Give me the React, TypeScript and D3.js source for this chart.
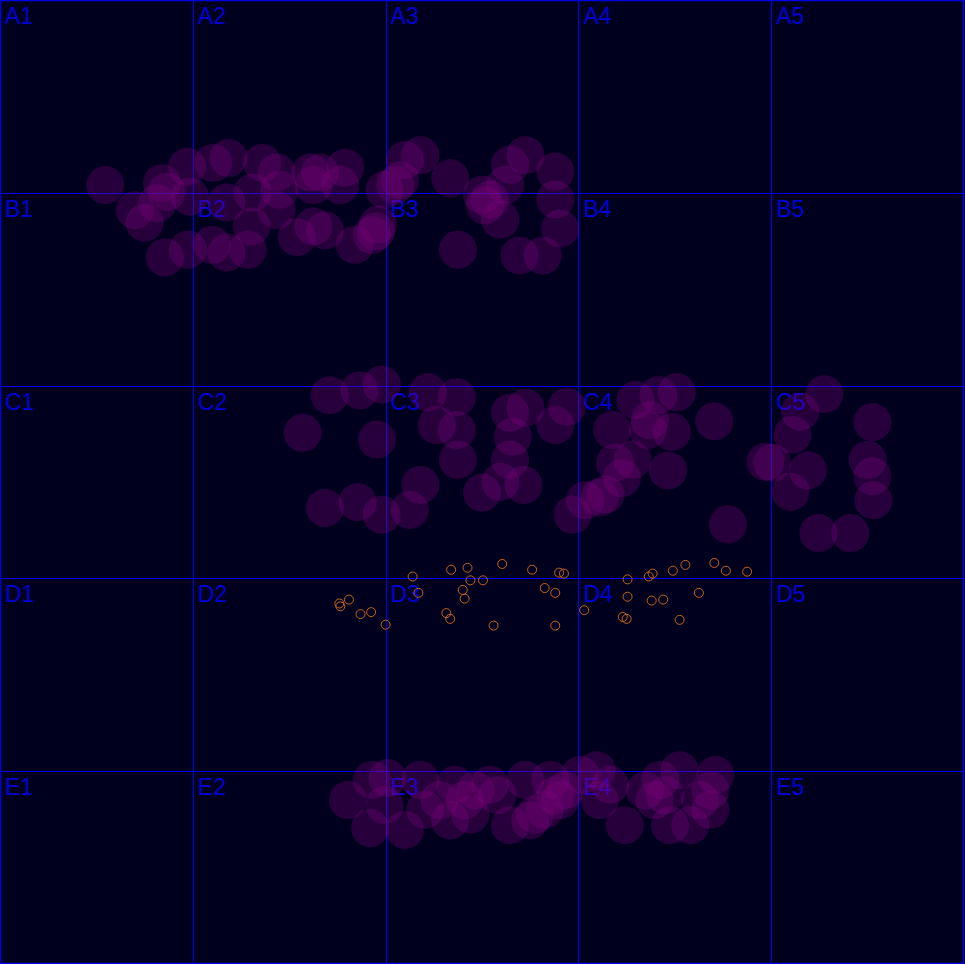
import * as React from "react";
import * as d3 from "d3";

// grid labels
const rows = ["A", "B", "C", "D", "E"];
const cols = ["1", "2", "3", "4", "5"];

// big translucent circles, [x, y] in percent of the board
const bandB: [number, number][] = [
  [10.9, 19.2], [16.8, 19.0], [17.3, 19.9], [14.0, 21.8], [15.0, 23.1],
  [16.3, 21.1], [19.7, 20.4], [19.4, 17.3], [22.1, 16.9], [23.7, 16.4],
  [23.5, 21.0], [26.2, 20.0], [27.2, 16.9], [28.7, 17.9], [29.0, 19.7],
  [32.2, 17.9], [32.5, 19.2], [33.2, 17.9], [28.7, 21.8], [26.1, 23.5],
  [30.8, 24.6], [32.5, 23.5], [17.1, 26.7], [19.5, 25.9], [22.0, 25.4],
  [23.5, 26.2], [25.7, 25.9], [35.8, 17.4], [35.3, 19.2], [36.8, 25.4],
  [38.6, 24.4], [39.2, 23.3], [39.9, 19.7], [41.5, 18.7], [42.0, 16.6],
  [43.6, 16.1], [46.7, 18.5], [47.5, 25.9], [50.3, 21.3], [50.8, 20.7],
  [51.9, 22.8], [52.4, 19.2], [52.9, 17.1], [54.5, 16.1], [57.6, 17.8],
  [57.6, 20.7], [58.1, 23.7], [53.9, 26.5], [56.3, 26.5], [33.7, 23.9],
  [41.0, 19.2], [39.0, 24.0], [50.0, 20.2],
];

const bandC: [number, number][] = [
  [31.4, 44.9], [34.2, 41.0], [33.7, 52.7], [37.1, 52.1], [37.3, 40.5],
  [39.6, 39.9], [39.1, 45.6], [39.6, 53.4], [42.5, 52.9], [43.6, 50.3],
  [44.4, 40.7], [47.4, 41.2], [45.3, 44.1], [47.4, 44.6], [47.5, 47.7],
  [50.0, 51.1], [51.9, 50.0], [54.3, 50.3], [52.9, 42.8], [54.5, 42.3],
  [53.2, 45.3], [52.9, 47.7], [57.6, 44.1], [58.8, 42.2], [59.4, 53.4],
  [60.7, 51.9], [62.2, 51.6], [62.8, 51.3], [63.5, 44.6], [63.8, 48.0],
  [64.5, 49.6], [65.6, 47.7], [65.9, 41.5], [67.2, 44.6], [67.4, 43.6],
  [68.3, 41.0], [69.3, 48.8], [69.7, 44.8], [70.2, 40.7], [74.1, 43.7],
  [75.5, 54.4], [79.4, 47.9], [80.1, 48.0], [82.0, 51.0], [82.2, 45.1],
  [83.8, 48.8], [84.9, 55.3], [85.5, 40.9], [88.2, 55.3], [90.0, 47.7],
  [90.5, 43.8], [90.5, 49.4], [90.6, 51.9], [83.0, 42.7],
];

const bandE: [number, number][] = [
  [36.1, 83.0], [38.4, 85.9], [38.6, 80.9], [40.2, 80.7], [39.9, 83.5],
  [42.0, 86.1], [43.6, 80.9], [44.1, 84.0], [45.6, 83.0], [46.7, 85.1],
  [47.2, 81.4], [48.2, 83.0], [48.8, 84.5], [49.3, 82.0], [50.8, 81.4],
  [51.6, 82.5], [52.9, 85.6], [54.5, 80.9], [55.0, 85.1], [55.5, 84.5],
  [56.5, 84.0], [57.1, 80.9], [57.6, 82.5], [58.1, 83.0], [58.6, 82.0],
  [60.2, 80.4], [61.9, 79.9], [62.2, 83.0], [63.3, 81.4], [64.8, 85.6],
  [66.9, 82.0], [67.9, 83.0], [68.5, 80.9], [69.0, 82.5], [69.5, 85.6],
  [70.5, 79.9], [71.6, 85.6], [72.6, 83.0], [73.7, 82.0], [74.2, 80.4],
  [73.7, 84.0],
];

// small orange rings
const ringsD: [number, number][] = [
  [35.2, 62.6], [35.3, 62.9], [36.2, 62.2], [37.4, 63.7], [38.5, 63.5],
  [40.0, 64.8], [42.8, 59.8], [43.4, 61.5], [46.8, 59.1], [48.5, 58.9],
  [48.8, 60.2], [50.1, 60.2], [48.0, 61.2], [48.2, 62.1], [46.3, 63.6],
  [46.7, 64.2], [52.1, 58.5], [51.2, 64.9], [55.2, 59.1], [56.5, 61.0],
  [57.6, 61.5], [58.0, 59.4], [58.5, 59.5], [57.6, 64.9], [60.6, 63.3],
  [65.1, 60.1], [65.1, 61.9], [64.6, 64.0], [65.0, 64.2], [67.3, 59.8],
  [67.7, 59.5], [67.6, 62.3], [68.8, 62.2], [69.8, 59.2], [71.1, 58.6],
  [70.5, 64.3], [72.5, 61.5], [74.1, 58.4], [75.3, 59.2], [77.5, 59.3],
];

const App: React.FC = () => {
  const width = 964;
  const height = 964;

  const x = d3.scaleLinear().domain([0, 100]).range([0, width]);
  const y = d3.scaleLinear().domain([0, 100]).range([0, height]);
  const cx = d3.scaleBand().domain(cols).range([0, width]);
  const cy = d3.scaleBand().domain(rows).range([0, height]);

  // crisp 1px grid positions
  const px = (v: number | undefined) => Math.round(v ?? 0) + 0.5;
  const inner = [1, 2, 3, 4];
  const bigR = 19;
  const big = [...bandB, ...bandC, ...bandE];

  const midX = [px(cx("3")), px((cx("3") ?? 0) + cx.bandwidth())];
  const midY = [px(cy("C")), px((cy("C") ?? 0) + cy.bandwidth())];

  return (
    <svg
      width={width + 1}
      height={height}
      style={{ position: "absolute", left: 0, top: 0, background: "#00001e" }}
    >
      <rect width={width + 1} height={height} fill="#00001e" />
      <g stroke="#0000ff" strokeOpacity={0.9} strokeWidth={1}>
        {inner.map((i) => (
          <line
            key={"v" + i}
            x1={px(cx(cols[i]))}
            x2={px(cx(cols[i]))}
            y1={0}
            y2={height}
          />
        ))}
        {inner.map((i) => (
          <line
            key={"h" + i}
            y1={px(cy(rows[i]))}
            y2={px(cy(rows[i]))}
            x1={0}
            x2={width}
          />
        ))}
      </g>
      <g stroke="#0000ff" strokeOpacity={0.8} strokeWidth={1}>
        {midX.map((v, i) => (
          <line key={"mv" + i} x1={v} x2={v} y1={0} y2={height} />
        ))}
        {midY.map((v, i) => (
          <line key={"mh" + i} y1={v} y2={v} x1={0} x2={width} />
        ))}
      </g>
      <rect
        x={0.5}
        y={0.5}
        width={width - 1}
        height={height - 1}
        fill="none"
        stroke="#0000e0"
        strokeWidth={1.5}
      />
      <g
        fill="#0000d4"
        fontFamily="Liberation Sans, Arial, sans-serif"
        fontSize={23}
      >
        {rows.map((r) =>
          cols.map((c) => (
            <text key={r + c} x={(cx(c) ?? 0) + 5} y={(cy(r) ?? 0) + 24}>
              {r + c}
            </text>
          ))
        )}
      </g>
      <g fill="purple" fillOpacity={0.3}>
        {big.map((d, i) => (
          <circle key={i} cx={x(d[0])} cy={y(d[1])} r={bigR} />
        ))}
      </g>
      <g fill="none" stroke="#c8641e" strokeWidth={1}>
        {ringsD.map((d, i) => (
          <circle key={i} cx={x(d[0])} cy={y(d[1])} r={4.5} />
        ))}
      </g>
    </svg>
  );
};

export default App;
